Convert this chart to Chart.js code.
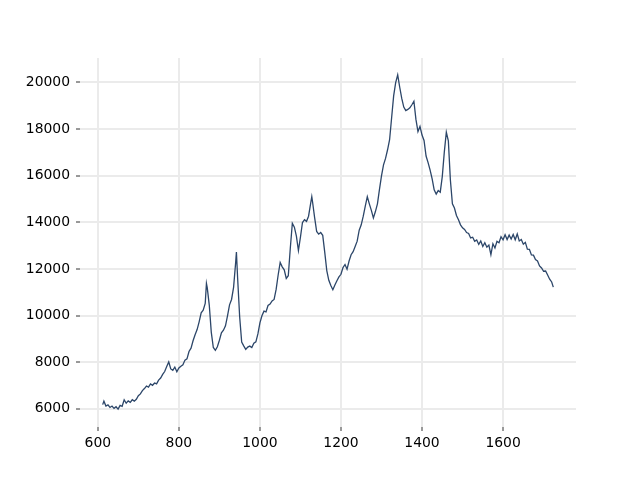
<!DOCTYPE html>
<html>
<head>
<meta charset="utf-8">
<script src="https://cdn.jsdelivr.net/npm/chart.js@4"></script>
<style>
  html, body { margin: 0; padding: 0; background: #fff; }
</style>
</head>
<body>
<canvas id="myChart" width="640" height="480"></canvas>
<script>
/* spectrum data */
const wavenumbers = [
  612, 615, 620, 625, 630, 635, 640, 645, 650, 655, 660, 665, 670, 675, 680, 685, 690, 695, 700,
  705, 710, 715, 720, 725, 730, 735, 740, 745, 750, 755, 760, 765, 770, 775, 780, 785, 790, 795, 800,
  805, 810, 815, 820, 825, 830, 835, 840, 845, 850, 855, 860, 865, 868, 870, 875, 880, 885, 890, 895, 900,
  905, 910, 915, 920, 925, 930, 935, 940, 942, 945, 950, 955, 960, 965, 970, 975, 980, 985, 990, 995, 1000,
  1005, 1010, 1015, 1020, 1025, 1030, 1035, 1040, 1045, 1050, 1055, 1060, 1065, 1070, 1075, 1080, 1085, 1090, 1095, 1100,
  1105, 1110, 1115, 1120, 1125, 1128, 1130, 1135, 1140, 1145, 1150, 1155, 1160, 1165, 1170, 1175, 1180, 1185, 1190, 1195, 1200,
  1205, 1210, 1215, 1220, 1225, 1230, 1235, 1240, 1245, 1250, 1255, 1260, 1265, 1270, 1275, 1280, 1285, 1290, 1295, 1300,
  1305, 1310, 1315, 1320, 1325, 1330, 1335, 1340, 1345, 1350, 1355, 1360, 1365, 1370, 1375, 1380, 1385, 1390, 1395, 1400,
  1405, 1410, 1415, 1420, 1425, 1430, 1435, 1440, 1445, 1450, 1455, 1460, 1465, 1470, 1475, 1480, 1485, 1490, 1495, 1500,
  1505, 1510, 1515, 1520, 1525, 1530, 1535, 1540, 1545, 1550, 1555, 1560, 1565, 1570, 1575, 1580, 1585, 1590, 1595, 1600,
  1605, 1610, 1615, 1620, 1625, 1630, 1635, 1640, 1645, 1650, 1655, 1660, 1665, 1670, 1675, 1680, 1685, 1690, 1695, 1700,
  1705, 1710, 1715, 1720, 1724
];
const intensity = [
  6180, 6330, 6120, 6170, 6060, 6120, 6020, 6090, 5990, 6150, 6110, 6390, 6240, 6340, 6280, 6390, 6330, 6410, 6560,
  6640, 6780, 6870, 6980, 6930, 7070, 7010, 7110, 7070, 7230, 7320, 7480, 7600, 7820, 8010, 7710, 7650, 7790, 7590, 7750,
  7830, 7890, 8090, 8140, 8460, 8600, 8920, 9180, 9400, 9730, 10120, 10230, 10520, 11380, 11200, 10450, 9280, 8630, 8510, 8660, 8940,
  9260, 9370, 9560, 9990, 10460, 10690, 11210, 12250, 12720, 11600, 9950, 8860, 8700, 8550, 8650, 8690, 8630, 8810, 8870, 9210, 9690,
  9990, 10190, 10160, 10430, 10490, 10630, 10690, 11120, 11740, 12280, 12090, 11960, 11590, 11710, 12900, 13960, 13790, 13410, 12790, 13360,
  13990, 14110, 14040, 14260, 14790, 15100, 14860, 14200, 13610, 13490, 13560, 13440, 12710, 11930, 11510, 11290, 11110, 11310, 11490, 11660, 11770,
  12060, 12190, 11990, 12340, 12610, 12740, 12960, 13190, 13660, 13890, 14260, 14690, 15100, 14790, 14510, 14190, 14460, 14790, 15410, 15990,
  16460, 16740, 17110, 17540, 18480, 19420, 19990, 20320, 19790, 19310, 18940, 18790, 18840, 18910, 19040, 19190, 18410, 17890, 18110, 17740,
  17510, 16840, 16560, 16240, 15860, 15390, 15210, 15360, 15290, 15960, 17010, 17860, 17490, 15810, 14790, 14610, 14290, 14110, 13890, 13760,
  13690, 13560, 13520, 13330, 13360, 13180, 13240, 13050, 13200, 12960, 13120, 12930, 13020, 12610, 13080, 12900, 13180, 13120, 13380, 13250,
  13470, 13260, 13450, 13280, 13480, 13250, 13500, 13200, 13260, 13060, 13140, 12850, 12840, 12600, 12590, 12400, 12340, 12130, 12040, 11900,
  11910, 11740, 11560, 11440, 11220
];
const xTicks = [600, 800, 1000, 1200, 1400, 1600];
const yTicks = [6000, 8000, 10000, 12000, 14000, 16000, 18000, 20000];

const points = wavenumbers.map((x, i) => ({ x: x, y: intensity[i] }));
const tickFont = { family: 'DejaVu Sans', size: 13.9 };

let ctx = document.getElementById('myChart').getContext('2d');
let spectrumChart = new Chart(ctx, {
  type: 'line',
  data: {
    datasets: [{
      data: points,
      borderColor: '#2c4669',
      borderWidth: 1.3,
      pointRadius: 0,
      fill: false,
      tension: 0
    }]
  },
  options: {
    responsive: false,
    animation: false,
    layout: { padding: { left: 0, right: 64, top: 58, bottom: 0 } },
    plugins: { legend: { display: false }, tooltip: { enabled: false } },
    scales: {
      x: {
        type: 'linear',
        min: 556,
        max: 1780,
        afterBuildTicks: function (scale) { scale.ticks = xTicks.map(v => ({ value: v })); },
        afterFit: function (scale) { scale.height = 53; },
        border: { display: false },
        grid: { color: '#ebebeb', lineWidth: 2, tickColor: '#333', tickWidth: 1, tickLength: 4 },
        ticks: { color: '#000', font: tickFont, padding: 4, maxRotation: 0, callback: v => String(v) }
      },
      y: {
        type: 'linear',
        min: 5221,
        max: 21045,
        afterBuildTicks: function (scale) { scale.ticks = yTicks.map(v => ({ value: v })); },
        afterFit: function (scale) { scale.width = 80; },
        border: { display: false },
        grid: { color: '#ebebeb', lineWidth: 2, tickColor: '#333', tickWidth: 1, tickLength: 4 },
        ticks: { color: '#000', font: tickFont, padding: 6, callback: v => String(v) }
      }
    }
  }
});
</script>
</body>
</html>
